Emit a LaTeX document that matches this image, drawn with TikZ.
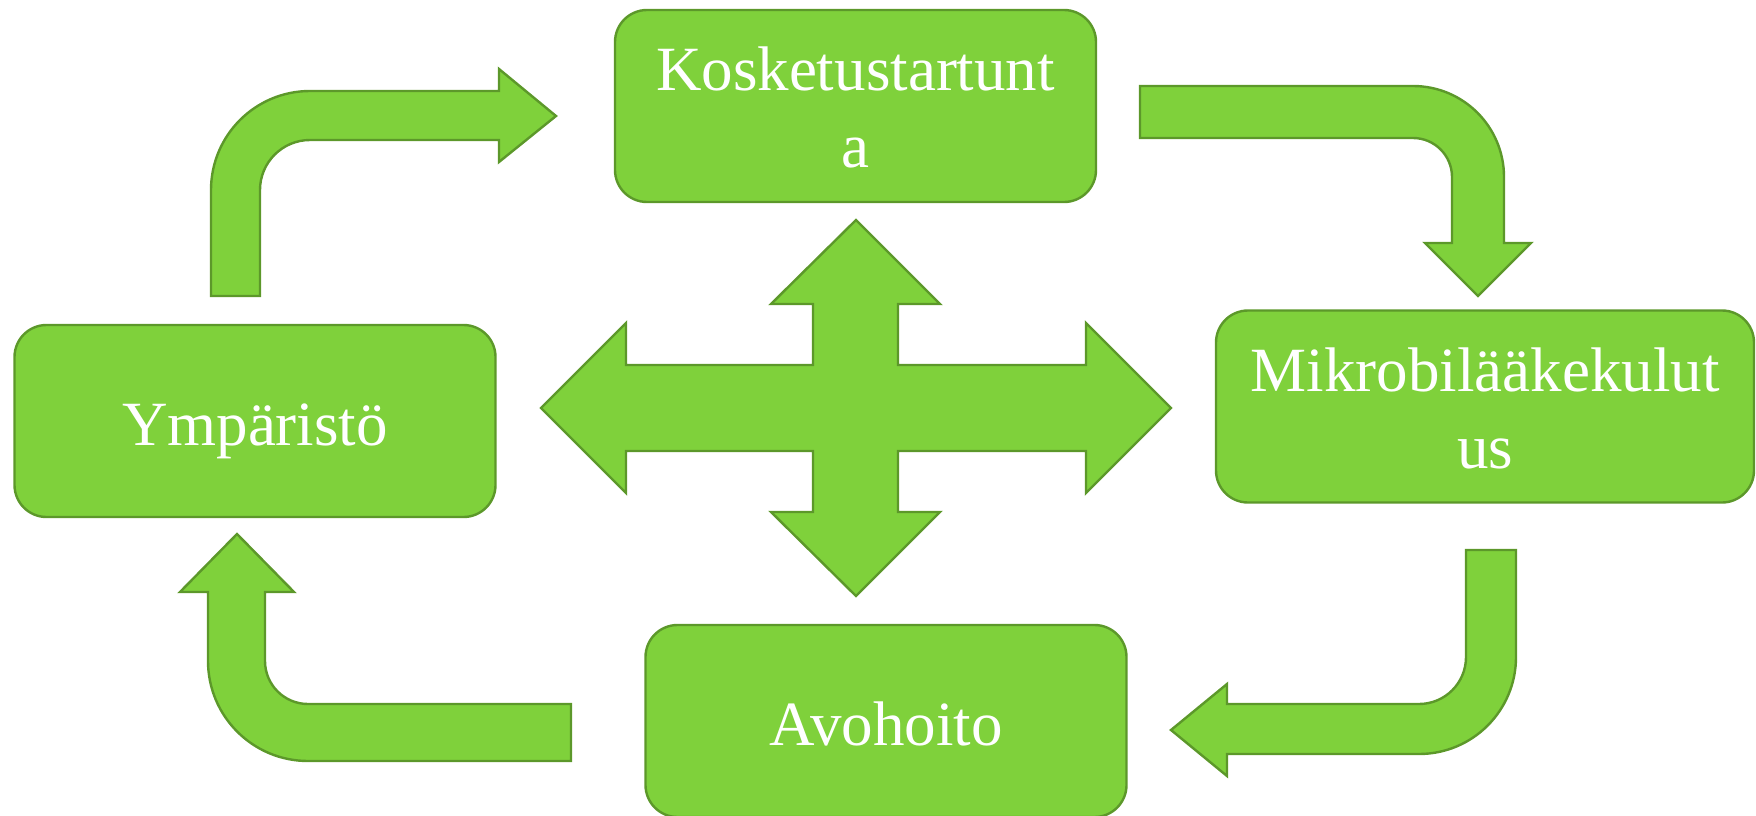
\documentclass[tikz,border=0pt]{standalone}
\usepackage{fontspec}
\setmainfont{Liberation Serif}
\definecolor{gfill}{RGB}{127,209,59}
\definecolor{gline}{RGB}{92,152,42}
\begin{document}
\begin{tikzpicture}[x=1pt,y=-1pt,
  box/.style={rectangle, rounded corners=32pt, draw=gline, fill=gfill, line width=2.4pt, inner sep=0pt, minimum height=192pt},
  txt/.style={text=white, font=\fontsize{63}{77}\selectfont, inner sep=0pt},
  blk/.style={fill=gfill, draw=gline, line width=2.4pt, line join=miter}]
\useasboundingbox (0,0) rectangle (1756,816);

% bent arrows
\draw[blk] (211,296) -- (211,190) arc[start angle=180, end angle=270, radius=99]
  -- (499,91) -- (499,69) -- (556,116) -- (499,162) -- (499,140) -- (310,140)
  arc[start angle=270, end angle=180, radius=50] -- (260,296) -- cycle;
\draw[blk] (1140,86) -- (1413,86) arc[start angle=270, end angle=360, radius=91]
  -- (1504,243) -- (1531,243) -- (1478,296) -- (1425,243) -- (1452,243) -- (1452,177)
  arc[start angle=0, end angle=-90, radius=39] -- (1140,138) -- cycle;
\draw[blk] (1466,550) -- (1516,550) -- (1516,657) arc[start angle=0, end angle=90, radius=97]
  -- (1227,754) -- (1227,776) -- (1171,730) -- (1227,684) -- (1227,704) -- (1419,704)
  arc[start angle=90, end angle=0, radius=47] -- cycle;
\draw[blk] (571,704) -- (571,761) -- (308,761) arc[start angle=90, end angle=180, radius=100]
  -- (208,592) -- (180,592) -- (237,534) -- (294,592) -- (265,592) -- (265,661)
  arc[start angle=180, end angle=90, radius=43] -- cycle;

% central four-way arrow
\draw[blk] (856,220) -- (940,304) -- (898,304) -- (898,365) -- (1086,365) -- (1086,323)
  -- (1171,408) -- (1086,493) -- (1086,451) -- (898,451) -- (898,512) -- (940,512)
  -- (856,596) -- (771,512) -- (813,512) -- (813,451) -- (626,451) -- (626,493)
  -- (541,408) -- (626,323) -- (626,365) -- (813,365) -- (813,304) -- (771,304) -- cycle;

% boxes
\node[box, minimum width=481pt] (kos) at (855.5,106) {};
\node[box, minimum width=481pt] (ymp) at (255,421) {};
\node[box, minimum width=538pt] (mik) at (1485,406.5) {};
\node[box, minimum width=481pt] (avo) at (886,721) {};

% texts
\node[txt, anchor=base] (kosa) at (855.5,91) {Kosketustartunt};
\node[txt, anchor=base] (kosb) at (855.5,167) {a};
\node[txt, anchor=base] (ympt) at (255,445) {Ympäristö};
\node[txt, anchor=base] (mika) at (1485,391) {Mikrobilääkekulut};
\node[txt, anchor=base] (mikb) at (1485,468) {us};
\node[txt, anchor=base] (avot) at (886,745) {Avohoito};
\end{tikzpicture}
\end{document}
